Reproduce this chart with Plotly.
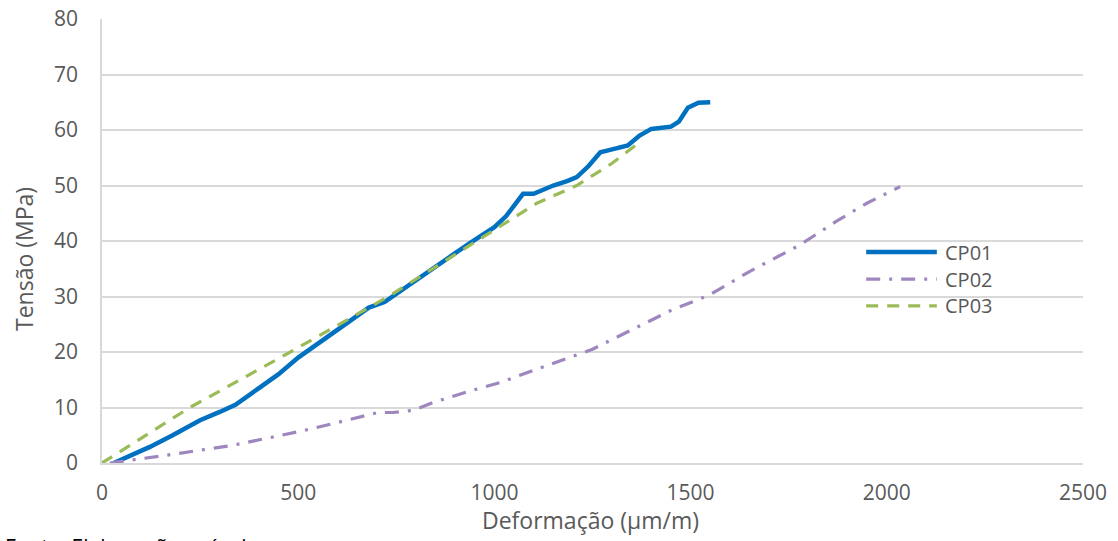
import plotly.graph_objects as go

# ---- data ----
cp01_x = [30, 80, 122, 180, 250, 300, 340, 400, 450, 500, 550, 600, 650, 680, 720, 750, 800, 850,
          900, 950, 1000, 1030, 1050, 1073, 1100, 1150, 1185, 1210, 1240, 1270, 1300, 1340, 1370,
          1400, 1450, 1470, 1493, 1520, 1550]
cp01_y = [0, 1.5, 2.9, 5, 7.7, 9.2, 10.5, 13.5, 16, 19, 21.5, 24, 26.5, 28, 29, 30.5, 32.8, 35.3,
          37.8, 40.2, 42.5, 44.5, 46.5, 48.5, 48.5, 50, 50.8, 51.5, 53.5, 56, 56.5, 57.2, 59,
          60.2, 60.6, 61.5, 64, 64.9, 65]

cp02_x = [20, 165, 334, 505, 600, 704, 742, 793, 844, 930, 1014, 1142, 1250, 1353, 1450, 1549,
          1650, 1779, 1870, 1949, 2034]
cp02_y = [0, 1.4, 3.2, 5.7, 7.3, 9.1, 9.1, 9.5, 10.9, 12.8, 14.5, 17.7, 20.5, 24.1, 27.5, 30.3,
          34.5, 39.3, 43.5, 46.8, 49.8]

cp03_x = [0, 224, 480, 730, 955, 1108, 1210, 1300, 1370]
cp03_y = [0, 10, 20, 30, 40, 46.8, 50, 54, 57.8]

series_names = ["CP01", "CP02", "CP03"]
x_ticks = [0, 500, 1000, 1500, 2000, 2500]
y_ticks = [0, 10, 20, 30, 40, 50, 60, 70, 80]

colors = {"CP01": "#0070C0", "CP02": "#9E86BE", "CP03": "#9BBB59"}
dashes = {"CP01": "solid", "CP02": "14px,9px,3px,9px", "CP03": "12px,9px"}
widths = {"CP01": 4.5, "CP02": 3.2, "CP03": 3.2}

FONT = "Open Sans"
TXT = "#595959"

fig = go.Figure()
for name, xs, ys in zip(series_names, [cp01_x, cp02_x, cp03_x], [cp01_y, cp02_y, cp03_y]):
    fig.add_trace(go.Scatter(x=xs, y=ys, mode="lines", name=name, showlegend=False,
                             line=dict(color=colors[name], width=widths[name], dash=dashes[name])))

# custom legend (long line samples like the original)
leg_y = [0.475, 0.414, 0.354]
for name, yy in zip(series_names, leg_y):
    fig.add_shape(type="line", xref="paper", yref="paper", x0=0.779, x1=0.851, y0=yy, y1=yy,
                  line=dict(color=colors[name], width=widths[name], dash=dashes[name]))
    fig.add_annotation(xref="paper", yref="paper", x=0.857, y=yy, text=name, showarrow=False,
                       xanchor="left", yanchor="middle", font=dict(family=FONT, size=20, color=TXT))

fig.add_annotation(xref="paper", yref="paper", x=-102/981, y=-(531-463)/444, text="Fonte: Elaboração própria",
                   showarrow=False, xanchor="left", yanchor="top", xshift=3,
                   font=dict(family=FONT, size=21, color="#000000"))

fig.add_annotation(xref="paper", yref="paper", x=(590-102)/981, y=-(520-463)/444, text="Deformação (μm/m)",
                   showarrow=False, xanchor="center", yanchor="middle",
                   font=dict(family=FONT, size=23, color=TXT))
fig.add_annotation(xref="paper", yref="paper", x=-(102-24)/981, y=(463-259)/444, text="Tensão (MPa)",
                   showarrow=False, xanchor="center", yanchor="middle", textangle=-90,
                   font=dict(family=FONT, size=23, color=TXT))

fig.update_layout(
    width=1118, height=541,
    margin=dict(l=102, r=35, t=19, b=78, autoexpand=False),
    paper_bgcolor="white", plot_bgcolor="white",
    font=dict(family=FONT, color=TXT, size=21),
    xaxis=dict(range=[0, 2500], tickvals=x_ticks, showgrid=False, showline=True,
               linecolor="#D9D9D9", linewidth=1.5, zeroline=False, ticks="",
               ticklabelstandoff=10, automargin=False,
               tickfont=dict(size=21, color=TXT)),
    yaxis=dict(range=[0, 80], tickvals=y_ticks, showgrid=True, gridcolor="#D9D9D9", gridwidth=1.5,
               showline=True, linecolor="#D9D9D9", linewidth=1.5, zeroline=False, ticks="",
               ticklabelstandoff=18, automargin=False,
               tickfont=dict(size=21, color=TXT)),
)

fig.write_html("out.html", config={"displayModeBar": False},
               post_script="document.body.style.margin='0px';")
